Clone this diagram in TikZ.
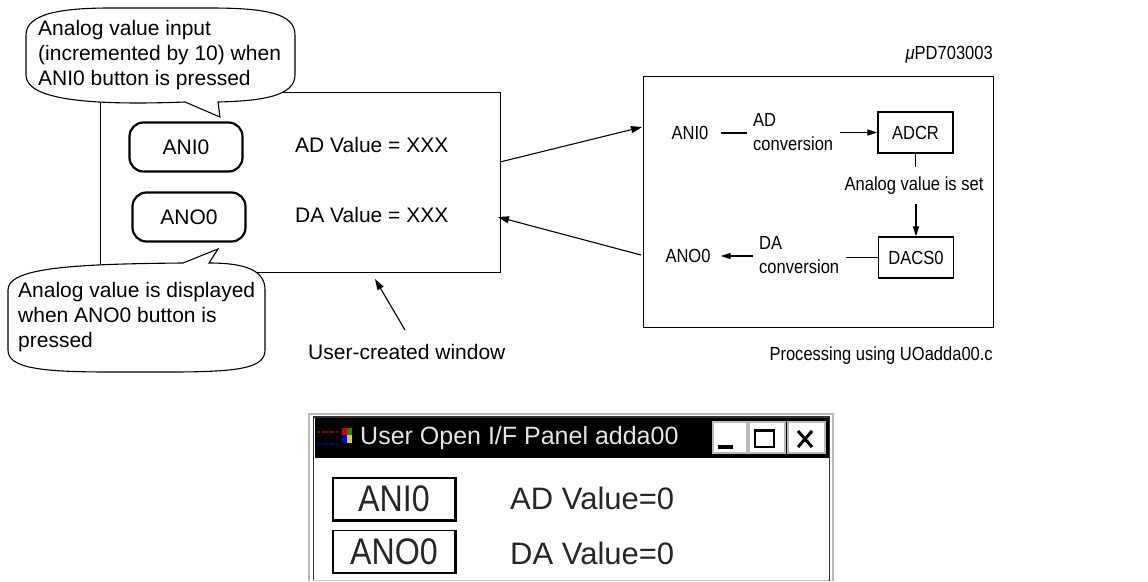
\documentclass[tikz,border=0pt]{standalone}
\usepackage{fontspec}
\setmainfont{Liberation Sans}
\newfontfamily\narrowfont[FakeStretch=0.87]{Liberation Sans}
\usetikzlibrary{arrows.meta,positioning}

\tikzset{
  note/.style={font=\fontsize{21}{25}\selectfont, align=left, inner sep=0pt},
  small/.style={font=\narrowfont\fontsize{19}{24}\selectfont, align=left, inner sep=0pt},
  button/.style={draw, line width=2.2pt, rounded corners=14pt, minimum width=113pt,
    minimum height=49pt, font=\fontsize{21}{25}\selectfont},
  register/.style={draw, line width=1.3pt, minimum width=75pt, minimum height=41pt,
    font=\narrowfont\fontsize{19}{24}\selectfont},
  bubble/.style={draw, line width=1.1pt, fill=white},
  link/.style={line width=1.1pt, -{Triangle[length=11pt,width=7pt]}},
  flow/.style={line width=1.2pt, -{Triangle[length=10pt,width=6pt]}},
  winbtn/.style={draw=gray!55, fill=white, line width=2pt, minimum height=31pt},
  panelbtn/.style={draw, line width=1.2pt, minimum width=122pt, minimum height=42pt,
    font=\narrowfont\fontsize{37}{37}\selectfont, text=black!85},
  panel/.style={font=\fontsize{31}{31}\selectfont, text=black!85, inner sep=0pt},
}

\begin{document}
\begin{tikzpicture}[x=1pt,y=-1pt]
  \useasboundingbox (0,0) rectangle (1148,581);

  % user-created window
  \node[draw, line width=1.3pt, minimum width=400pt, minimum height=180pt,
    anchor=north west, inner sep=0pt] (win) at (100,92) {};
  \node[button] (ani0btn) at (186,147) {ANI0};
  \node[button] (ano0btn) at (189,217) {ANO0};
  \node[note, anchor=west] (adval) at (295,145) {AD Value = XXX};
  \node[note, anchor=west] (daval) at (295,215) {DA Value = XXX};

  % callouts
  \draw[bubble] (218,102) -- (220,117) -- (185,102)
    .. controls (80,106) and (26,98) .. (26,75) -- (26,35)
    .. controls (26,14) and (60,8) .. (110,8) -- (210,8)
    .. controls (268,8) and (295,14) .. (295,35) -- (295,75)
    .. controls (295,96) and (262,101) .. (218,102) -- cycle;
  \node[note, anchor=west] (innote) at (38,55)
    {Analog value input\\(incremented by 10) when\\ANI0 button is pressed};
  \draw[bubble] (209,263) -- (218,249) -- (183,263)
    .. controls (70,264) and (8,268) .. (8,290) -- (8,350)
    .. controls (8,368) and (40,372) .. (110,372) -- (170,372)
    .. controls (240,372) and (265,368) .. (265,350) -- (265,290)
    .. controls (265,270) and (245,263) .. (209,263) -- cycle;
  \node[note, anchor=west] (outnote) at (18,317)
    {Analog value is displayed\\when ANO0 button is\\pressed};

  \node[note, anchor=west] (usernote) at (308,352) {User-created window};
  \coordinate (usertail) at (405,330);
  \coordinate (winbottom) at (375,279);
  \draw[link] (usertail) -- (winbottom);

  % processing side
  \node[draw, line width=1.3pt, minimum width=350pt, minimum height=251pt,
    anchor=north west, inner sep=0pt] (mcu) at (643,76) {};
  \node[small, anchor=base east] (chip) at (993,59) {\textit{μ}PD703003};
  \node[small, anchor=base east] (proc) at (993,360) {Processing using UOadda00.c};

  \node[small] (ani0txt) at (690,133) {ANI0};
  \node[small, anchor=west] (adconv) at (753,132.5) {AD\\conversion};
  \node[register] (adcr) at (915.5,132.5) {ADCR};
  \node[small] (setnote) at (914,186) {Analog value is set};
  \node[register] (dacs) at (916,257.5) {DACS0};
  \node[small, anchor=west] (daconv) at (759,255) {DA\\conversion};
  \node[small] (ano0txt) at (688,256) {ANO0};

  \draw[line width=1.2pt, shorten <=12pt, shorten >=6pt] (ani0txt) -- (adconv.west |- ani0txt);
  \draw[flow, shorten <=7pt] (adconv.east) -- (adcr.west);
  \draw[line width=1.2pt, shorten >=10pt] (adcr.south) -- (setnote.north -| adcr.south);
  \draw[flow, shorten <=9pt] (setnote.south -| dacs.north) -- (dacs.north);
  \draw[line width=1.2pt, shorten >=7pt] (dacs.west) -- (daconv.east |- dacs.west);
  \draw[flow, shorten <=6pt, shorten >=10pt] (daconv.west |- ano0txt) -- (ano0txt.east);

  % links between window and processing
  \coordinate (winout) at (500,162);
  \coordinate (mcuin) at (642,127);
  \coordinate (mcuout) at (641,255);
  \coordinate (winin) at (498,217);
  \draw[link] (winout) -- (mcuin);
  \draw[link] (mcuout) -- (winin);

  % screenshot of the panel
  \draw[gray!55, line width=2pt] (309,581) -- (309,414) -- (833,414) -- (833,581);
  \draw[gray!40!black, line width=1.3pt] (313.5,581) -- (313.5,417) -- (829.5,417) -- (829.5,581);
  \draw[gray!40, line width=1pt] (313,580) -- (829,580);
  \fill[black] (315,418) rectangle (828.5,458);
  \draw[red!70!black, line width=1.6pt, dash pattern=on 2pt off 1.5pt] (318,432) -- (336,432);
  \draw[blue!70!black, line width=1.6pt, dash pattern=on 2pt off 1.5pt] (318,444) -- (336,444);
  \fill[red!80!black] (342,428) rectangle (347,435);
  \fill[green!60!black] (347,428) rectangle (352,435);
  \fill[blue!80!black] (342,435) rectangle (347,443);
  \fill[yellow!85!black] (347,435) rectangle (352,443);
  \node[font=\fontsize{25}{25}\selectfont, text=white!90!black, anchor=west, inner sep=0pt]
    (title) at (360,438) {User Open I/F Panel adda00};
  \node[winbtn, minimum width=34pt] (minbtn) at (729.5,437) {};
  \node[winbtn, minimum width=36pt] (maxbtn) at (766.5,437) {};
  \node[winbtn, minimum width=37pt] (closebtn) at (806,437) {};
  \fill[black] (718,445) rectangle (733,448.5);
  \draw[line width=1.3pt] (755,430) rectangle (774,447);
  \draw[line width=2.5pt] (755,430.5) -- (774,430.5);
  \draw[line width=3pt] (798,431) -- (812,447) (812,431) -- (798,447);

  \node[panelbtn] (ani0key) at (394,499) {ANI0};
  \node[panelbtn] (ano0key) at (394,551.5) {ANO0};
  \draw[line width=2.6pt] (ani0key.south west) -- (ani0key.south east) -- (ani0key.north east);
  \draw[line width=2.6pt] (ano0key.south west) -- (ano0key.south east) -- (ano0key.north east);
  \node[panel, anchor=west] (adshow) at (510,498) {AD Value=0};
  \node[panel, anchor=west] (dashow) at (510,553) {DA Value=0};
\end{tikzpicture}
\end{document}
